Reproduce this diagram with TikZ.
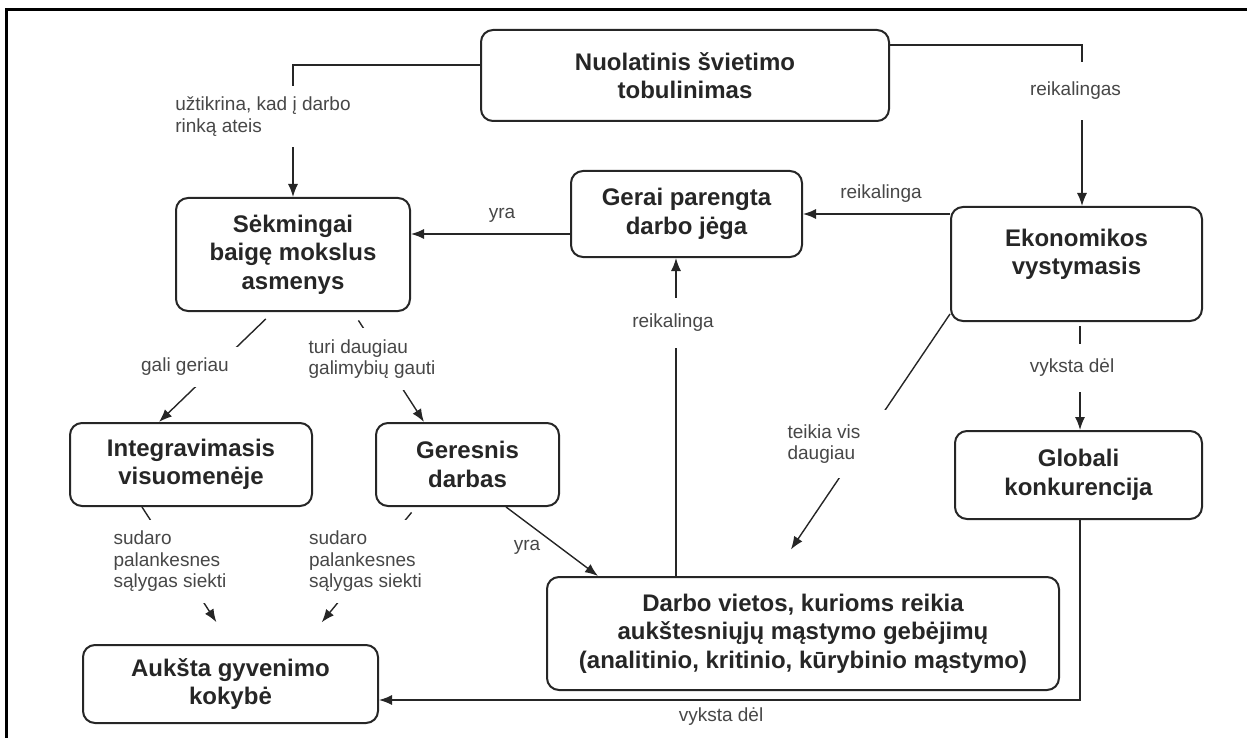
\documentclass[tikz,border=0pt]{standalone}
\usepackage{fontspec}
\setmainfont{Liberation Sans}
\usetikzlibrary{arrows.meta, backgrounds}
\definecolor{ink}{HTML}{262626}

\begin{document}
\begin{tikzpicture}[x=1pt,y=-1pt,
  concept/.style={draw=ink, fill=white, line width=2pt, rounded corners=12pt, align=center, text=ink, inner sep=0pt, font=\fontsize{24}{28.5}\selectfont\bfseries},
  link/.style={fill=white, align=left, text=ink!85, inner sep=11pt, font=\fontsize{19}{21.5}\selectfont},
  note/.style={align=left, text=ink!85, inner sep=2pt, font=\fontsize{19}{21.5}\selectfont},
  conn/.style={draw=ink, line width=1.4pt},
  arr/.style={conn, -{Latex[length=13pt,width=10pt]}}]
\useasboundingbox (0,0) rectangle (1247,738);
% frame (only top and left edges are visible)
\draw[line width=3pt] (6,738) -- (6,10) -- (1247,10);

% concepts
\node[concept, minimum width=408pt, minimum height=91pt] (nuol) at (685,75.5) {Nuolatinis švietimo\\tobulinimas};
\node[concept, minimum width=231pt, minimum height=86pt] (gerai) at (686.5,214) {Gerai parengta\\darbo jėga};
\node[concept, minimum width=234pt, minimum height=113pt] (sek) at (293,254.5) {Sėkmingai\\baigę mokslus\\asmenys};
\node[concept, minimum width=251pt, minimum height=114pt] (eko) at (1076.5,264) {Ekonomikos\\vystymasis\\[-4pt]\mbox{}};
\node[concept, minimum width=242pt, minimum height=83pt] (integ) at (191,464.5) {Integravimasis\\visuomenėje};
\node[concept, minimum width=183pt, minimum height=83pt] (geres) at (467.5,464.5) {Geresnis\\darbas};
\node[concept, minimum width=247pt, minimum height=88pt] (glob) at (1078.5,475) {Globali\\konkurencija};
\node[concept, minimum width=512pt, minimum height=113pt] (darbo) at (803,633.5) {Darbo vietos, kurioms reikia\\aukštesniųjų mąstymo gebėjimų\\(analitinio, kritinio, kūrybinio mąstymo)};
\node[concept, minimum width=295pt, minimum height=78pt] (auk) at (230.5,684) {Aukšta gyvenimo\\kokybė};

% linking phrases
\node[link] (lUztikrina) at (263,116.5) {užtikrina, kad į darbo\\rinką ateis};
\node[link, inner ysep=20pt] (lReikalingas) at (1075.5,91) {reikalingas};
\node[note] (lYraTop) at (502,215) {yra};
\node[note] (lReikEko) at (881,194) {reikalinga};
\node[link, inner ysep=16pt] (lReikDarbo) at (673,323) {reikalinga};
\node[link] (lGali) at (185,367) {gali geriau};
\node[link] (lTuri) at (372,359) {turi daugiau\\galimybių gauti};
\node[link, inner ysep=15pt] (lVykstaTop) at (1072,368) {vyksta dėl};
\node[link, inner ysep=14pt, minimum width=132pt] (lTeikia) at (824,444) {teikia vis\\daugiau};
\node[note] (lYraLow) at (527,547) {yra};
\node[link] (lSudaroA) at (170,561.5) {sudaro\\palankesnes\\sąlygas siekti};
\node[link] (lSudaroB) at (365.5,561.5) {sudaro\\palankesnes\\sąlygas siekti};
\node[note] (lVykstaLow) at (721,717) {vyksta dėl};

% connectors run under the white linking phrases
\begin{scope}[on background layer]
\draw[arr] ([yshift=10.5pt]nuol.west) -| (sek.north);
\draw[arr] ([yshift=30.5pt]nuol.east) -| ([xshift=5.5pt]eko.north);
\draw[arr] ([yshift=-20pt]gerai.west) -- ([yshift=20.5pt]sek.east);
\draw[arr] (eko.west |- gerai.east) -- (gerai.east);
\draw[arr] ([xshift=-127pt]darbo.north) -- ([xshift=-10.5pt]gerai.south);
\draw[arr, shorten <=4pt] ([xshift=3.5pt]eko.south) -- ([xshift=1.5pt]glob.north);
\draw[arr] ([xshift=1.5pt]glob.south) |- ([yshift=-16pt]auk.east);
\draw[arr, shorten >=32pt] ([yshift=8pt]eko.south west) -- ([xshift=-30pt]darbo.north);
\draw[arr] ([xshift=38.5pt]geres.south) -- ([xshift=-205pt]darbo.north);
\draw[arr, shorten <=10pt] ([xshift=-20pt]sek.south) -- ([xshift=-32pt]integ.north);
\draw[arr, shorten <=10pt] ([xshift=60pt]sek.south) -- ([xshift=-43.5pt]geres.north);
\draw[arr, shorten >=26pt] ([xshift=-49pt]integ.south) -- (auk.north);
\draw[arr, shorten <=7pt, shorten >=28pt] ([xshift=-51.5pt]geres.south) -- ([xshift=73.5pt]auk.north);
\end{scope}
\end{tikzpicture}
\end{document}
